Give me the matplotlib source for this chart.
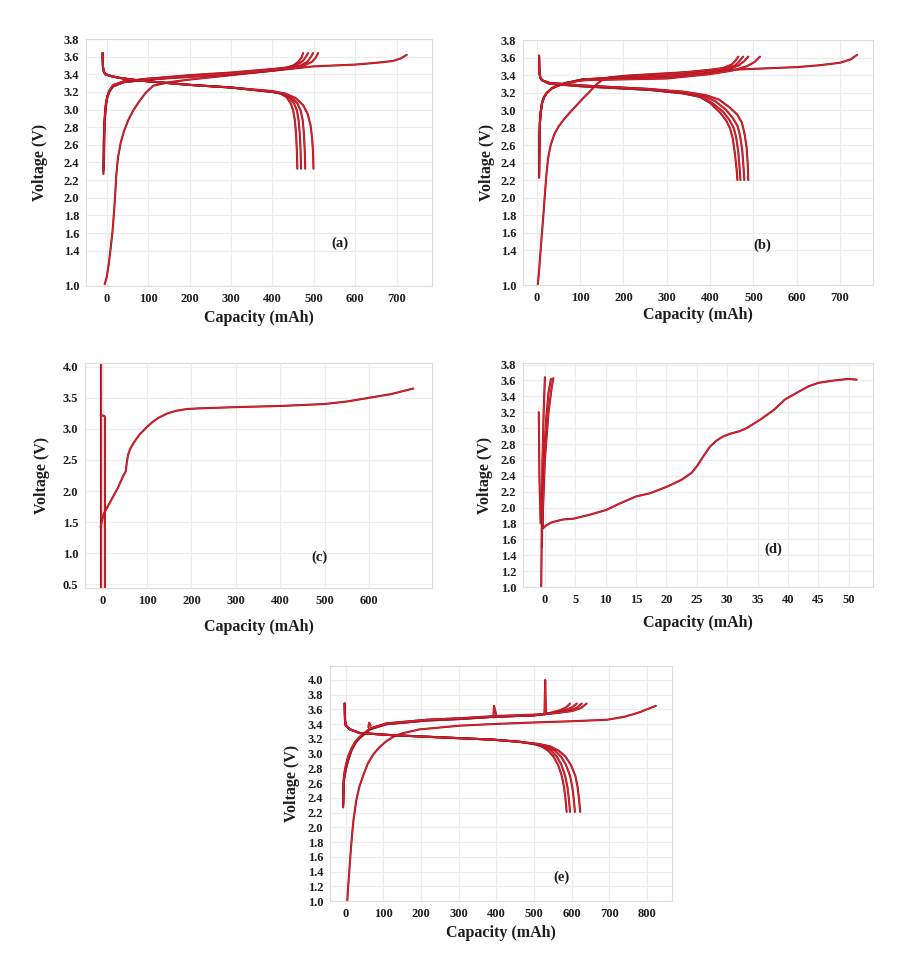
import matplotlib
matplotlib.use("Agg")
import matplotlib.pyplot as plt

# Police serif grasse comme la figure d'origine
plt.rcParams['font.family'] = ['Liberation Serif', 'DejaVu Serif']
plt.rcParams['font.weight'] = 'bold'
plt.rcParams['axes.labelweight'] = 'bold'

# ---------------- (a) ----------------
a_first_x = [-5, 0, 5, 10, 14, 17, 20, 23, 27, 34, 42, 52, 64, 78, 94, 112, 150, 200, 300, 400, 500, 600, 650, 690, 710, 724]
a_first_y = [1.02, 1.10, 1.25, 1.45, 1.62, 1.80, 2.00, 2.25, 2.45, 2.63, 2.76, 2.88, 2.99, 3.09, 3.19, 3.27, 3.31, 3.34, 3.39, 3.44, 3.49, 3.51, 3.53, 3.55, 3.58, 3.62]
a_charge_x = [
    [-8, -7.5, -7, -6, -4, -2, 1, 6, 15, 40, 100, 200, 300, 400, 430, 450, 462, 470, 474],
    [-8, -7.5, -7, -6, -4, -2, 1, 6, 15, 40, 100, 200, 300, 400, 440, 460, 473, 481, 486],
    [-7, -6.5, -6, -5, -3, -1, 2, 7, 16, 42, 100, 200, 300, 400, 445, 468, 484, 493, 498],
    [-7, -6.5, -6, -5, -3, -1, 2, 7, 16, 42, 100, 200, 300, 400, 450, 476, 495, 505, 510],
]
a_charge_y = [
    [2.27, 2.45, 2.62, 2.80, 2.95, 3.05, 3.13, 3.20, 3.26, 3.31, 3.34, 3.38, 3.41, 3.45, 3.47, 3.50, 3.54, 3.59, 3.64],
    [2.30, 2.47, 2.64, 2.82, 2.97, 3.07, 3.14, 3.21, 3.27, 3.32, 3.35, 3.39, 3.42, 3.46, 3.48, 3.51, 3.55, 3.60, 3.64],
    [2.32, 2.49, 2.66, 2.84, 2.98, 3.08, 3.15, 3.21, 3.27, 3.31, 3.34, 3.37, 3.40, 3.44, 3.47, 3.50, 3.54, 3.60, 3.64],
    [2.35, 2.52, 2.68, 2.86, 3.00, 3.09, 3.16, 3.22, 3.28, 3.32, 3.35, 3.38, 3.41, 3.45, 3.47, 3.50, 3.54, 3.59, 3.64],
]
a_dis_x = [
    [-10, -9.5, -9, -7, -3, 10, 30, 60, 100, 200, 300, 400, 420, 434, 444, 450, 454, 457, 459, 460],
    [-10, -9.5, -9, -7, -3, 10, 30, 60, 100, 200, 300, 400, 424, 440, 452, 459, 463, 466, 468, 469],
    [-10, -9.5, -9, -7, -3, 10, 30, 60, 100, 200, 300, 400, 428, 446, 460, 468, 473, 476, 478, 479],
    [-10, -9.5, -9, -7, -3, 10, 30, 60, 100, 200, 300, 400, 432, 456, 474, 485, 492, 496, 498, 499],
]
a_dis_y = [
    [3.64, 3.55, 3.48, 3.43, 3.40, 3.38, 3.36, 3.34, 3.32, 3.28, 3.25, 3.20, 3.18, 3.14, 3.07, 2.99, 2.88, 2.72, 2.52, 2.33],
    [3.64, 3.55, 3.48, 3.43, 3.40, 3.38, 3.36, 3.34, 3.32, 3.28, 3.25, 3.20, 3.18, 3.14, 3.07, 2.99, 2.88, 2.72, 2.52, 2.33],
    [3.64, 3.55, 3.48, 3.43, 3.40, 3.38, 3.36, 3.34, 3.32, 3.28, 3.25, 3.20, 3.18, 3.14, 3.07, 2.99, 2.88, 2.72, 2.52, 2.33],
    [3.64, 3.55, 3.48, 3.43, 3.40, 3.38, 3.36, 3.34, 3.32, 3.28, 3.25, 3.21, 3.18, 3.13, 3.05, 2.95, 2.82, 2.66, 2.50, 2.33],
]

# ---------------- (b) ----------------
b_first_x = [2, 5, 8, 11, 14, 18, 22, 26, 32, 40, 50, 62, 76, 91, 106, 122, 137, 150, 165, 200, 300, 450, 600, 650, 700, 725, 739]
b_first_y = [1.0, 1.15, 1.35, 1.55, 1.73, 2.00, 2.26, 2.45, 2.60, 2.72, 2.81, 2.89, 2.97, 3.05, 3.13, 3.21, 3.29, 3.34, 3.37, 3.39, 3.42, 3.46, 3.49, 3.51, 3.54, 3.58, 3.63]
b_charge_x = [
    [5, 5.5, 6, 7, 9, 12, 16, 22, 35, 50, 68, 106, 200, 300, 400, 430, 450, 458, 465],
    [5, 5.5, 6, 7, 9, 12, 16, 22, 35, 50, 68, 106, 200, 300, 400, 435, 458, 468, 476],
    [5, 5.5, 6, 7, 9, 12, 16, 22, 35, 50, 68, 106, 200, 300, 400, 440, 466, 479, 488],
    [5, 5.5, 6, 7, 9, 12, 16, 22, 35, 50, 68, 106, 200, 300, 400, 450, 485, 503, 515],
]
b_charge_y = [
    [2.23, 2.45, 2.65, 2.85, 2.98, 3.08, 3.14, 3.19, 3.25, 3.28, 3.31, 3.35, 3.38, 3.41, 3.46, 3.48, 3.52, 3.56, 3.61],
    [2.23, 2.45, 2.65, 2.85, 2.98, 3.08, 3.14, 3.19, 3.25, 3.28, 3.31, 3.35, 3.37, 3.39, 3.44, 3.47, 3.51, 3.56, 3.61],
    [2.23, 2.45, 2.65, 2.85, 2.98, 3.08, 3.14, 3.19, 3.25, 3.28, 3.31, 3.34, 3.36, 3.37, 3.42, 3.46, 3.51, 3.56, 3.61],
    [2.23, 2.45, 2.65, 2.85, 2.98, 3.08, 3.14, 3.19, 3.25, 3.28, 3.31, 3.34, 3.35, 3.36, 3.41, 3.45, 3.50, 3.55, 3.61],
]
b_dis_x = [
    [5, 5.5, 6, 8, 12, 29, 106, 260, 338, 376, 400, 423, 437, 446, 452, 457, 461, 463],
    [5, 5.5, 6, 8, 12, 29, 106, 260, 338, 380, 405, 430, 444, 454, 460, 465, 468, 470],
    [5, 5.5, 6, 8, 12, 29, 106, 260, 338, 385, 412, 437, 452, 463, 469, 474, 477, 479],
    [5, 5.5, 6, 8, 12, 29, 106, 260, 338, 390, 420, 445, 462, 473, 479, 484, 487, 488],
]
b_dis_y = [
    [3.62, 3.50, 3.42, 3.37, 3.34, 3.30, 3.27, 3.23, 3.19, 3.15, 3.08, 2.97, 2.88, 2.79, 2.68, 2.51, 2.33, 2.20],
    [3.62, 3.50, 3.42, 3.37, 3.34, 3.30, 3.27, 3.23, 3.19, 3.15, 3.08, 2.98, 2.89, 2.80, 2.69, 2.52, 2.34, 2.20],
    [3.62, 3.50, 3.42, 3.37, 3.34, 3.31, 3.28, 3.24, 3.20, 3.16, 3.10, 3.00, 2.91, 2.82, 2.71, 2.55, 2.35, 2.20],
    [3.62, 3.50, 3.42, 3.37, 3.34, 3.31, 3.28, 3.24, 3.21, 3.17, 3.12, 3.03, 2.95, 2.86, 2.74, 2.58, 2.37, 2.20],
]

# ---------------- (c) ----------------
c_vert1_x = [-5, -5]
c_vert1_y = [4.10, 0.40]
c_vert2_x = [-5, 3, 5, 5]
c_vert2_y = [3.22, 3.21, 3.19, 0.40]
c_main_x = [-5, 2, 18, 34, 46, 52, 54, 57, 62, 70, 82, 98, 112, 126, 146, 165, 190, 217, 300, 405, 500, 550, 600, 650, 700]
c_main_y = [1.42, 1.63, 1.84, 2.05, 2.24, 2.32, 2.45, 2.58, 2.68, 2.78, 2.90, 3.02, 3.11, 3.18, 3.25, 3.29, 3.32, 3.33, 3.35, 3.37, 3.40, 3.44, 3.50, 3.56, 3.65]

# ---------------- (d) ----------------
d_main_x = [-0.3, 0.3, 1.0, 1.9, 3.0, 4.7, 7.4, 10.1, 12.3, 15, 17.3, 20, 22.5, 24.2, 25.2, 26.2, 27.2, 28.2, 29.2, 30.5, 32, 33.2, 35.5, 37.7, 39.5, 41.8, 43.5, 45, 47.6, 50, 51.3]
d_main_y = [1.74, 1.78, 1.81, 1.83, 1.85, 1.86, 1.91, 1.97, 2.05, 2.14, 2.18, 2.26, 2.35, 2.44, 2.54, 2.66, 2.77, 2.84, 2.89, 2.93, 2.96, 3.00, 3.11, 3.23, 3.36, 3.46, 3.53, 3.57, 3.60, 3.62, 3.61]
d_spike_x = [-1.0, -0.9, -0.7]
d_spike_y = [3.20, 2.40, 1.80]
d_near_x = [
    [-0.6, -0.5, -0.4, -0.2, 0.0],
    [-0.5, -0.3, 0.2, 0.6, 1.0],
    [-0.4, 0.0, 0.6, 1.1, 1.4],
    [-0.5, -0.4, -0.3],
]
d_near_y = [
    [1.0, 1.8, 2.6, 3.2, 3.64],
    [1.5, 2.4, 3.1, 3.45, 3.62],
    [1.8, 2.6, 3.2, 3.5, 3.63],
    [2.1, 1.9, 1.76],
]

# ---------------- (e) ----------------
e_first_x = [4, 6, 9, 12, 15, 20, 28, 36, 46, 58, 73, 90, 108, 130, 153, 197, 303, 383, 481, 600, 694, 740, 780, 824]
e_first_y = [1.0, 1.18, 1.38, 1.60, 1.80, 2.08, 2.37, 2.55, 2.70, 2.86, 2.99, 3.09, 3.17, 3.24, 3.28, 3.33, 3.38, 3.40, 3.42, 3.44, 3.46, 3.50, 3.56, 3.65]
e_charge_x = [
    [-7, -6.5, -6, -5, -3, 0, 6, 15, 25, 37, 64, 108, 215, 303, 392, 500, 540, 570, 586, 596],
    [-7, -6.5, -6, -5, -3, 0, 6, 15, 25, 37, 64, 108, 215, 303, 392, 500, 548, 583, 602, 614],
    [-7, -6.5, -6, -5, -3, 0, 6, 15, 25, 37, 64, 108, 215, 303, 392, 500, 553, 593, 613, 627],
    [-7, -6.5, -6, -5, -3, 0, 6, 15, 25, 37, 64, 108, 215, 303, 392, 500, 558, 603, 625, 640],
]
e_charge_y = [
    [2.27, 2.42, 2.53, 2.62, 2.70, 2.78, 2.90, 3.04, 3.14, 3.21, 3.33, 3.40, 3.45, 3.47, 3.50, 3.52, 3.55, 3.59, 3.63, 3.68],
    [2.29, 2.44, 2.55, 2.64, 2.72, 2.80, 2.92, 3.05, 3.15, 3.22, 3.33, 3.40, 3.45, 3.47, 3.50, 3.52, 3.55, 3.59, 3.63, 3.68],
    [2.31, 2.46, 2.57, 2.66, 2.74, 2.82, 2.94, 3.06, 3.15, 3.22, 3.34, 3.41, 3.46, 3.48, 3.50, 3.52, 3.55, 3.58, 3.62, 3.68],
    [2.33, 2.48, 2.59, 2.68, 2.76, 2.84, 2.96, 3.07, 3.16, 3.23, 3.34, 3.41, 3.46, 3.48, 3.51, 3.53, 3.55, 3.58, 3.62, 3.68],
]
e_dis_x = [
    [-3, -2.5, -2, 0, 11, 37, 126, 215, 303, 392, 463, 500, 520, 538, 552, 564, 574, 580, 584, 587],
    [-3, -2.5, -2, 0, 11, 37, 126, 215, 303, 392, 463, 505, 527, 546, 561, 573, 583, 589, 593, 596],
    [-3, -2.5, -2, 0, 11, 37, 126, 215, 303, 392, 463, 510, 535, 556, 572, 585, 596, 602, 606, 609],
    [-3, -2.5, -2, 0, 11, 37, 126, 215, 303, 392, 463, 515, 543, 566, 584, 598, 610, 616, 620, 623],
]
e_dis_y = [
    [3.68, 3.55, 3.45, 3.38, 3.33, 3.28, 3.25, 3.23, 3.21, 3.19, 3.16, 3.13, 3.10, 3.04, 2.96, 2.85, 2.70, 2.55, 2.38, 2.21],
    [3.68, 3.55, 3.45, 3.38, 3.33, 3.28, 3.25, 3.23, 3.21, 3.19, 3.16, 3.13, 3.10, 3.04, 2.96, 2.85, 2.70, 2.55, 2.38, 2.21],
    [3.68, 3.55, 3.45, 3.38, 3.33, 3.28, 3.25, 3.23, 3.21, 3.19, 3.16, 3.13, 3.10, 3.04, 2.96, 2.85, 2.70, 2.55, 2.38, 2.21],
    [3.68, 3.55, 3.45, 3.38, 3.33, 3.28, 3.25, 3.23, 3.21, 3.19, 3.16, 3.13, 3.10, 3.04, 2.96, 2.85, 2.70, 2.55, 2.38, 2.21],
]
e_spike_x = [[60, 62, 66], [392, 394, 400], [528, 530, 532]]
e_spike_y = [[3.36, 3.42, 3.38], [3.49, 3.65, 3.52], [3.53, 4.00, 3.55]]

# Ticks
ticks_a_y = [1.0, 1.4, 1.6, 1.8, 2.0, 2.2, 2.4, 2.6, 2.8, 3.0, 3.2, 3.4, 3.6, 3.8]
ticks_d_y = [1.0, 1.2, 1.4, 1.6, 1.8, 2.0, 2.2, 2.4, 2.6, 2.8, 3.0, 3.2, 3.4, 3.6, 3.8]
ticks_e_y = [1.0, 1.2, 1.4, 1.6, 1.8, 2.0, 2.2, 2.4, 2.6, 2.8, 3.0, 3.2, 3.4, 3.6, 3.8, 4.0]
ticks_c_y = [0.5, 1.0, 1.5, 2.0, 2.5, 3.0, 3.5, 4.0]
ticks_ab_x = [0, 100, 200, 300, 400, 500, 600, 700]
ticks_c_x = [0, 100, 200, 300, 400, 500, 600]
ticks_d_x = [0, 5, 10, 15, 20, 25, 30, 35, 40, 45, 50]
ticks_e_x = [0, 100, 200, 300, 400, 500, 600, 700, 800]

RED = '#e2202b'
DARK = '#8e1722'
W, H = 903, 977

fig = plt.figure(figsize=(W / 100, H / 100), dpi=100)


def axes_px(left, top, right, bottom):
    return fig.add_axes([left / W, 1 - bottom / H, (right - left) / W, (bottom - top) / H])


def trace(ax, xs, ys):
    ax.plot(xs, ys, color=DARK, lw=1.5, solid_capstyle='round', solid_joinstyle='round')
    ax.plot(xs, ys, color=RED, lw=0.9, solid_capstyle='round', solid_joinstyle='round')


def habiller(ax, xlim, ylim, xt, yt, lab, lab_pos, ylab_dx, xlab_dy):
    ax.set_xlim(*xlim)
    ax.set_ylim(*ylim)
    ax.set_xticks(xt)
    ax.set_yticks(yt)
    ax.set_yticklabels(["%.1f" % v for v in yt])
    ax.tick_params(length=0, pad=5, labelsize=9, labelcolor='#1e1e1e')
    ax.grid(True, color='#ececec', lw=0.8)
    ax.set_axisbelow(True)
    for s in ax.spines.values():
        s.set_color('#dcdcdc')
    bb = ax.get_position()
    wpx = bb.width * W
    hpx = bb.height * H
    ax.set_ylabel("Voltage (V)", fontsize=11.5, fontweight='bold', va='center', color='#1e1e1e')
    ax.yaxis.set_label_coords(-ylab_dx / wpx, 0.5)
    ax.set_xlabel("Capacity (mAh)", fontsize=11.5, fontweight='bold', va='center', color='#1e1e1e')
    ax.xaxis.set_label_coords(0.5, -xlab_dy / hpx)
    ax.text(lab_pos[0], lab_pos[1], lab, transform=ax.transAxes, fontsize=10.5,
            fontweight='bold', ha='center', va='center', color='#1e1e1e')


# (a)
ax = axes_px(86, 39, 432, 286)
trace(ax, a_first_x, a_first_y)
for xs, ys in zip(a_charge_x, a_charge_y):
    trace(ax, xs, ys)
for xs, ys in zip(a_dis_x, a_dis_y):
    trace(ax, xs, ys)
habiller(ax, (-50, 785), (1.0, 3.8), ticks_ab_x, ticks_a_y, "(a)", (0.734, 0.174), 46, 32)

# (b)
ax = axes_px(523, 40, 873, 285)
trace(ax, b_first_x, b_first_y)
for xs, ys in zip(b_charge_x, b_charge_y):
    trace(ax, xs, ys)
for xs, ys in zip(b_dis_x, b_dis_y):
    trace(ax, xs, ys)
habiller(ax, (-32, 776), (1.0, 3.8), ticks_ab_x, ticks_a_y, "(b)", (0.683, 0.163), 36, 30)

# (c)
ax = axes_px(85, 363, 432, 588)
trace(ax, c_vert1_x, c_vert1_y)
trace(ax, c_vert2_x, c_vert2_y)
trace(ax, c_main_x, c_main_y)
habiller(ax, (-40, 742), (0.44, 4.06), ticks_c_x, ticks_c_y, "(c)", (0.677, 0.138), 43, 39)

# (d)
ax = axes_px(523, 363, 873, 587)
trace(ax, d_spike_x, d_spike_y)
for xs, ys in zip(d_near_x, d_near_y):
    trace(ax, xs, ys)
trace(ax, d_main_x, d_main_y)
habiller(ax, (-3.6, 54), (1.0, 3.82), ticks_d_x, ticks_d_y, "(d)", (0.714, 0.17), 38, 36)

# (e)
ax = axes_px(330, 666, 672, 901)
trace(ax, e_first_x, e_first_y)
for xs, ys in zip(e_charge_x, e_charge_y):
    trace(ax, xs, ys)
for xs, ys in zip(e_dis_x, e_dis_y):
    trace(ax, xs, ys)
for xs, ys in zip(e_spike_x, e_spike_y):
    trace(ax, xs, ys)
habiller(ax, (-42, 867), (1.0, 4.19), ticks_e_x, ticks_e_y, "(e)", (0.678, 0.10), 38, 32)

fig.savefig("out.png", dpi=100, facecolor='white')
